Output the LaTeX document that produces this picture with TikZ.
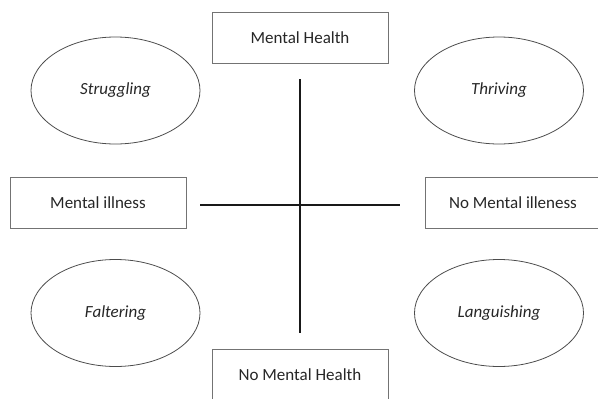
\documentclass[tikz,border=0pt]{standalone}
\usepackage{fontspec}
\setmainfont{Carlito}
\usetikzlibrary{shapes.geometric}
\begin{document}
\begin{tikzpicture}[x=1pt,y=-1pt,
  axisbox/.style={draw=black!55,line width=0.9pt,minimum width=176pt,minimum height=51pt,inner sep=0pt,font=\fontsize{17}{20}\selectfont,text=black!85},
  quadrant/.style={draw=black!70,line width=0.8pt,ellipse,minimum width=169pt,minimum height=107pt,inner sep=0pt,font=\fontsize{17}{20}\selectfont\itshape,text=black!85},
  axisline/.style={line width=2.6pt,black!90}]
  \useasboundingbox (0,0) rectangle (598,399);
  \clip (0,0) rectangle (598,399);
  % axes labels
  \node[axisbox] (mh)  at (300,37.5)  {Mental Health};
  \node[axisbox] (nmh) at (300,375)   {No Mental Health};
  \node[axisbox] (mi)  at (98,202.5)  {Mental illness};
  \node[axisbox] (nmi) at (513,202.5) {No Mental illeness};
  % quadrants
  \node[quadrant] (st) at (115.5,90.5) {Struggling};
  \node[quadrant] (th) at (499,90.5)   {Thriving};
  \node[quadrant] (fa) at (115.5,313)  {Faltering};
  \node[quadrant] (la) at (499,313)    {Languishing};
  % cross
  \draw[axisline,shorten <=16pt,shorten >=16pt] (mh.south) -- (nmh.north);
  \draw[axisline,shorten <=14pt,shorten >=25pt] ([yshift=-2.5pt]mi.east) -- ([yshift=-2.5pt]nmi.west);
\end{tikzpicture}
\end{document}
